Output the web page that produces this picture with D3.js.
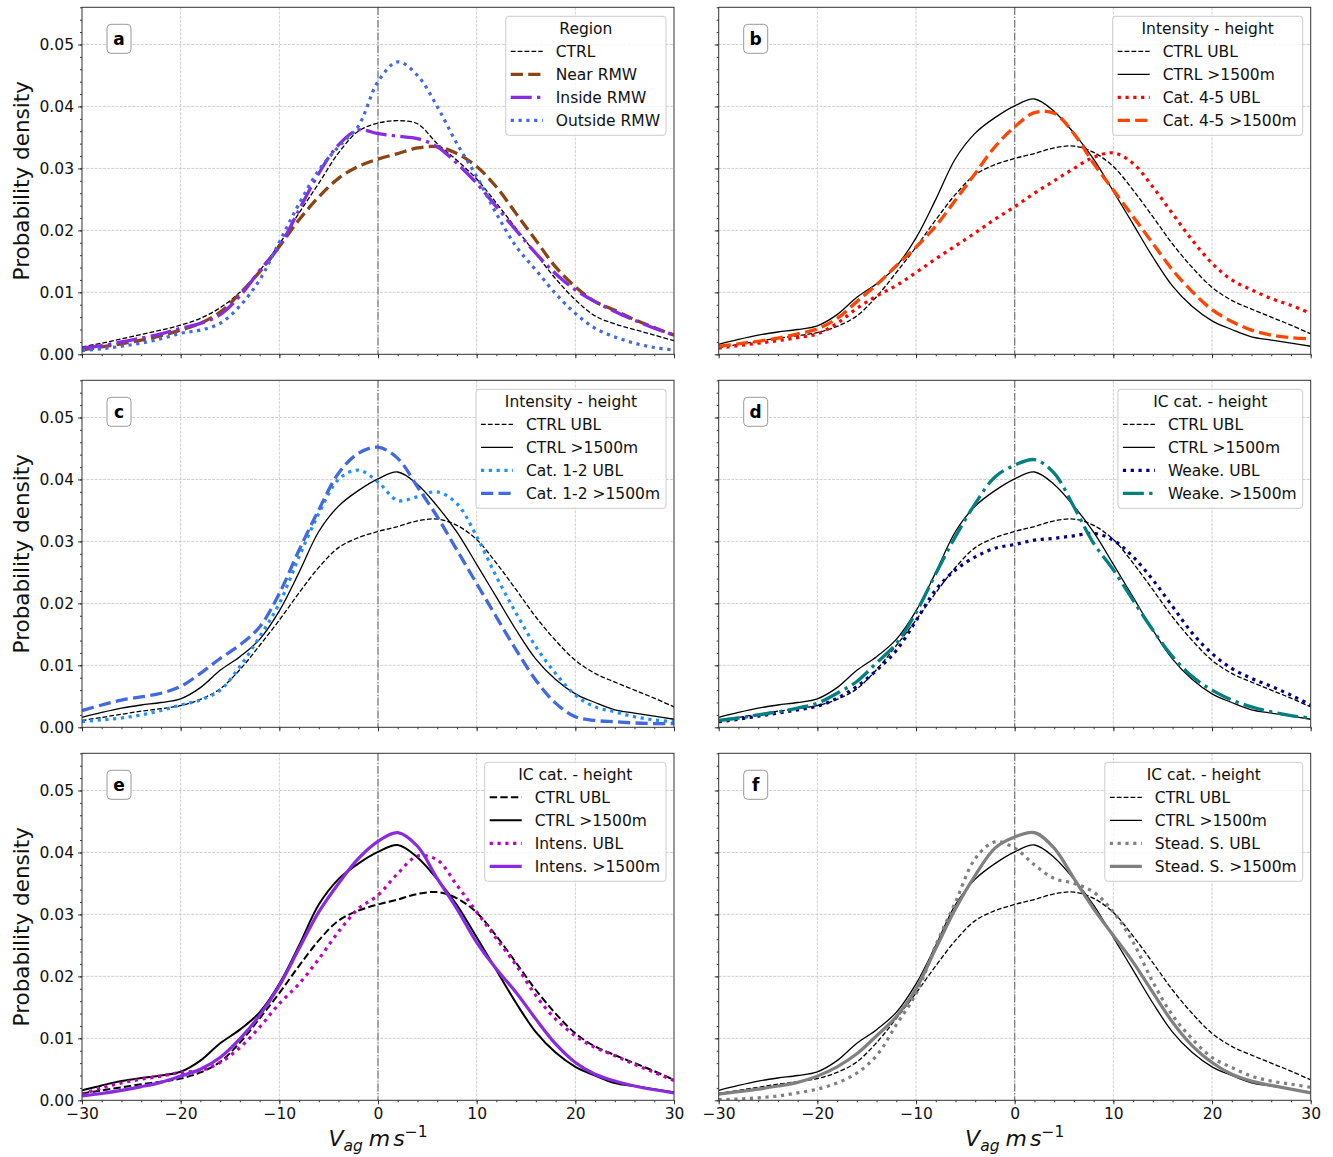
<!DOCTYPE html>
<html>
<head>
<meta charset="utf-8">
<script src="https://cdn.jsdelivr.net/npm/d3@7"></script>
<style>
  body { margin: 0; background: #fff; }
  text { font-family: "DejaVu Sans", sans-serif; }
</style>
</head>
<body>
<svg id="chart" width="1333" height="1157"></svg>
<script>
// Ageostrophic wind speed grid (m s^-1), one value every 2 m s^-1
const vGrid = d3.range(-30, 31, 2);

// Panel a: region
const ctrlRegion = [0.0012,0.0018,0.0025,0.0032,0.0039,0.0047,0.0058,0.0075,0.0100,0.0135,0.0178,0.0228,0.0276,0.0325,0.0360,0.0373,0.0377,0.0372,0.0340,0.0313,0.0283,0.0244,0.0203,0.0162,0.0122,0.0088,0.0062,0.0049,0.0040,0.0031,0.0022];
const nearRMW    = [0.0007,0.0012,0.0017,0.0023,0.0030,0.0039,0.0050,0.0068,0.0098,0.0133,0.0174,0.0217,0.0254,0.0284,0.0303,0.0315,0.0324,0.0333,0.0335,0.0324,0.0303,0.0270,0.0227,0.0184,0.0141,0.0109,0.0085,0.0071,0.0056,0.0043,0.0031];
const insideRMW  = [0.0010,0.0014,0.0020,0.0026,0.0033,0.0042,0.0050,0.0064,0.0094,0.0135,0.0174,0.0233,0.0292,0.0338,0.0362,0.0356,0.0352,0.0348,0.0335,0.0308,0.0276,0.0238,0.0200,0.0163,0.0130,0.0104,0.0085,0.0069,0.0055,0.0042,0.0031];
const outsideRMW = [0.0006,0.0009,0.0013,0.0018,0.0025,0.0034,0.0039,0.0050,0.0078,0.0120,0.0181,0.0243,0.0297,0.0335,0.0368,0.0440,0.0472,0.0450,0.0400,0.0340,0.0287,0.0227,0.0174,0.0136,0.0098,0.0066,0.0042,0.0028,0.0018,0.0011,0.0007];

// Control runs, shared by panels b-f
const ctrlUBL    = [0.0011,0.0016,0.0021,0.0026,0.0030,0.0035,0.0045,0.0062,0.0093,0.0132,0.0173,0.0217,0.0258,0.0290,0.0306,0.0316,0.0324,0.0333,0.0336,0.0326,0.0303,0.0265,0.0222,0.0178,0.0140,0.0108,0.0087,0.0073,0.0060,0.0047,0.0033];
const ctrlHigh   = [0.0016,0.0024,0.0031,0.0036,0.0040,0.0046,0.0064,0.0092,0.0114,0.0142,0.0188,0.0250,0.0316,0.0357,0.0382,0.0401,0.0412,0.0392,0.0357,0.0315,0.0263,0.0210,0.0157,0.0110,0.0077,0.0054,0.0040,0.0028,0.0023,0.0018,0.0013];

// Panel b: Cat. 4-5
const cat45UBL   = [0.0010,0.0014,0.0018,0.0022,0.0027,0.0033,0.0050,0.0074,0.0094,0.0111,0.0132,0.0154,0.0175,0.0196,0.0218,0.0238,0.0260,0.0280,0.0300,0.0318,0.0325,0.0308,0.0270,0.0227,0.0184,0.0147,0.0120,0.0104,0.0090,0.0079,0.0066];
const cat45High  = [0.0013,0.0017,0.0021,0.0026,0.0033,0.0041,0.0058,0.0085,0.0112,0.0143,0.0173,0.0207,0.0249,0.0292,0.0335,0.0367,0.0390,0.0389,0.0356,0.0308,0.0265,0.0222,0.0179,0.0136,0.0101,0.0072,0.0053,0.0039,0.0031,0.0027,0.0025];

// Panel c: Cat. 1-2
const cat12UBL   = [0.0009,0.0012,0.0015,0.0020,0.0027,0.0036,0.0044,0.0060,0.0098,0.0146,0.0200,0.0275,0.0345,0.0400,0.0415,0.0396,0.0366,0.0372,0.0380,0.0361,0.0308,0.0243,0.0184,0.0130,0.0087,0.0052,0.0033,0.0025,0.0017,0.0012,0.0009];
const cat12High  = [0.0027,0.0036,0.0044,0.0049,0.0055,0.0066,0.0087,0.0111,0.0133,0.0162,0.0216,0.0286,0.0351,0.0410,0.0442,0.0452,0.0434,0.0388,0.0340,0.0286,0.0232,0.0178,0.0125,0.0076,0.0039,0.0017,0.0011,0.0009,0.0007,0.0006,0.0006];

// Panel d: weakening
const weakUBL    = [0.0009,0.0013,0.0018,0.0023,0.0028,0.0034,0.0047,0.0066,0.0092,0.0124,0.0172,0.0222,0.0254,0.0275,0.0289,0.0295,0.0302,0.0305,0.0309,0.0313,0.0302,0.0275,0.0238,0.0195,0.0152,0.0119,0.0095,0.0079,0.0066,0.0052,0.0036];
const weakHigh   = [0.0011,0.0015,0.0020,0.0025,0.0031,0.0039,0.0055,0.0074,0.0104,0.0135,0.0185,0.0248,0.0308,0.0361,0.0404,0.0423,0.0432,0.0410,0.0356,0.0297,0.0254,0.0205,0.0157,0.0114,0.0082,0.0060,0.0044,0.0033,0.0025,0.0019,0.0015];

// Panel e: intensification
const intensUBL  = [0.0010,0.0020,0.0028,0.0034,0.0039,0.0045,0.0048,0.0061,0.0085,0.0118,0.0156,0.0188,0.0228,0.0272,0.0309,0.0331,0.0366,0.0394,0.0388,0.0347,0.0304,0.0261,0.0218,0.0169,0.0131,0.0104,0.0085,0.0072,0.0058,0.0045,0.0032];
const intensHigh = [0.0007,0.0011,0.0016,0.0022,0.0029,0.0039,0.0050,0.0069,0.0099,0.0137,0.0185,0.0245,0.0304,0.0350,0.0390,0.0418,0.0432,0.0410,0.0358,0.0309,0.0255,0.0212,0.0174,0.0131,0.0091,0.0061,0.0042,0.0031,0.0023,0.0017,0.0012];

// Panel f: steady state
const steadyUBL  = [0.0001,0.0002,0.0004,0.0007,0.0012,0.0018,0.0028,0.0044,0.0072,0.0122,0.0172,0.0250,0.0320,0.0390,0.0417,0.0407,0.0380,0.0358,0.0350,0.0336,0.0304,0.0255,0.0191,0.0137,0.0099,0.0069,0.0053,0.0039,0.0031,0.0026,0.0021];
const steadyHigh = [0.0010,0.0014,0.0018,0.0023,0.0029,0.0039,0.0054,0.0075,0.0104,0.0135,0.0180,0.0245,0.0309,0.0363,0.0407,0.0425,0.0432,0.0407,0.0358,0.0309,0.0266,0.0223,0.0174,0.0126,0.0088,0.0061,0.0042,0.0031,0.0024,0.0018,0.0012];

// Axes ticks and labels
const xMajor = [-30, -20, -10, 0, 10, 20, 30];
const xTickLabels = ["\u221230", "\u221220", "\u221210", "0", "10", "20", "30"];
const yMajor = [0, 0.01, 0.02, 0.03, 0.04, 0.05];
const yTickLabels = ["0.00", "0.01", "0.02", "0.03", "0.04", "0.05"];
const xDomain = [-30, 30];
const yDomain = [0, 0.056];

// Line styles (width, dash pattern, colour)
const styles = {
  ctrlDash:    { w: 1.3, dash: "4.8,2.1", color: "#000" },
  ctrlSolid:   { w: 1.3, dash: null,      color: "#000" },
  ctrlDashMed: { w: 2.0, dash: "7.4,3.2", color: "#000" },
  ctrlSolidMed:{ w: 2.0, dash: null,      color: "#000" },
  brownDash:   { w: 3.3, dash: "12.2,5.3", color: "#8B4513" },
  violetDashDot:{ w: 3.3, dash: "21,5.3,3.3,5.3", color: "#8A2BE2" },
  blueDot:     { w: 3.2, dash: "3.2,4.6", color: "#4169E1" },
  redDot:      { w: 3.2, dash: "3.2,4.6", color: "#FF0000" },
  orangeDash:  { w: 3.3, dash: "12.2,5.3", color: "#FF4500" },
  skyDot:      { w: 3.2, dash: "3.2,4.6", color: "#1E90FF" },
  royalDash:   { w: 3.3, dash: "12.2,5.3", color: "#4169E1" },
  navyDot:     { w: 3.2, dash: "3.2,4.6", color: "#00008B" },
  tealDashDot: { w: 3.3, dash: "21,5.3,3.3,5.3", color: "#008080" },
  magentaDot:  { w: 3.2, dash: "3.2,4.6", color: "#BF00BF" },
  violetSolid: { w: 3.2, dash: null,      color: "#8A2BE2" },
  grayDot:     { w: 3.2, dash: "3.2,4.6", color: "#808080" },
  graySolid:   { w: 3.2, dash: null,      color: "#808080" }
};

const panels = [
  { letter: "a", title: "Region", series: [
    ["CTRL", ctrlRegion, "ctrlDash"],
    ["Near RMW", nearRMW, "brownDash"],
    ["Inside RMW", insideRMW, "violetDashDot"],
    ["Outside RMW", outsideRMW, "blueDot"]] },
  { letter: "b", title: "Intensity - height", series: [
    ["CTRL UBL", ctrlUBL, "ctrlDash"],
    ["CTRL >1500m", ctrlHigh, "ctrlSolid"],
    ["Cat. 4-5 UBL", cat45UBL, "redDot"],
    ["Cat. 4-5 >1500m", cat45High, "orangeDash"]] },
  { letter: "c", title: "Intensity - height", series: [
    ["CTRL UBL", ctrlUBL, "ctrlDash"],
    ["CTRL >1500m", ctrlHigh, "ctrlSolid"],
    ["Cat. 1-2 UBL", cat12UBL, "skyDot"],
    ["Cat. 1-2 >1500m", cat12High, "royalDash"]] },
  { letter: "d", title: "IC cat. - height", series: [
    ["CTRL UBL", ctrlUBL, "ctrlDash"],
    ["CTRL >1500m", ctrlHigh, "ctrlSolid"],
    ["Weake. UBL", weakUBL, "navyDot"],
    ["Weake. >1500m", weakHigh, "tealDashDot"]] },
  { letter: "e", title: "IC cat. - height", series: [
    ["CTRL UBL", ctrlUBL, "ctrlDashMed"],
    ["CTRL >1500m", ctrlHigh, "ctrlSolidMed"],
    ["Intens. UBL", intensUBL, "magentaDot"],
    ["Intens. >1500m", intensHigh, "violetSolid"]] },
  { letter: "f", title: "IC cat. - height", series: [
    ["CTRL UBL", ctrlUBL, "ctrlDash"],
    ["CTRL >1500m", ctrlHigh, "ctrlSolid"],
    ["Stead. S. UBL", steadyUBL, "grayDot"],
    ["Stead. S. >1500m", steadyHigh, "graySolid"]] }
];

const svg = d3.select("#chart");
const colX = [[82, 674], [718.7, 1310.7]];
const rowTop0 = 7.3, rowStep = 373, plotH = 347;
const fontTick = 15.5;

function applyStyle(sel, st) {
  sel.attr("fill", "none")
     .attr("stroke", st.color)
     .attr("stroke-width", st.w)
     .attr("stroke-linejoin", "round")
     .attr("stroke-linecap", "butt");
  if (st.dash) sel.attr("stroke-dasharray", st.dash);
  return sel;
}

panels.forEach((p, i) => {
  const col = i % 2, row = Math.floor(i / 2);
  const [x0, x1] = colX[col];
  const y0 = rowTop0 + row * rowStep, y1 = y0 + plotH;
  const x = d3.scaleLinear().domain(xDomain).range([x0, x1]);
  const y = d3.scaleLinear().domain(yDomain).range([y1, y0]);
  const g = svg.append("g");

  const clipId = "clip-" + p.letter;
  svg.append("clipPath").attr("id", clipId)
    .append("rect").attr("x", x0).attr("y", y0).attr("width", x1 - x0).attr("height", y1 - y0);

  // grid
  const grid = g.append("g").attr("stroke", "#b0b0b0").attr("stroke-width", 0.8)
    .attr("stroke-dasharray", "2.9,1.3").attr("opacity", 0.75);
  xMajor.slice(1, -1).forEach(v => grid.append("line")
    .attr("x1", x(v)).attr("x2", x(v)).attr("y1", y0).attr("y2", y1));
  yMajor.slice(1).forEach(v => grid.append("line")
    .attr("x1", x0).attr("x2", x1).attr("y1", y(v)).attr("y2", y(v)));

  // zero reference line
  g.append("line").attr("x1", x(0)).attr("x2", x(0)).attr("y1", y0).attr("y2", y1)
    .attr("stroke", "#777").attr("stroke-width", 1.2).attr("stroke-dasharray", "7.7,1.9,1.2,1.9");

  // density curves
  const line = d3.line().x((d, k) => x(vGrid[k])).y(d => y(d)).curve(d3.curveCatmullRom.alpha(0.5));
  const curves = g.append("g").attr("clip-path", `url(#${clipId})`);
  p.series.forEach(s => {
    applyStyle(curves.append("path").datum(s[1]).attr("d", line), styles[s[2]]);
  });

  // axes: major and minor ticks
  const showX = row === 2, showY = col === 0;
  g.append("g").attr("transform", `translate(0,${y1})`)
    .call(d3.axisBottom(x).tickValues(xMajor).tickSize(4).tickPadding(4)
      .tickFormat((d, k) => showX ? xTickLabels[k] : ""));
  g.append("g").attr("transform", `translate(0,${y1})`)
    .call(d3.axisBottom(x).tickValues(d3.range(-30, 31, 2)).tickSize(2).tickFormat(""));
  g.append("g").attr("transform", `translate(${x0},0)`)
    .call(d3.axisLeft(y).tickValues(yMajor).tickSize(4).tickPadding(4)
      .tickFormat((d, k) => showY ? yTickLabels[k] : ""));
  g.append("g").attr("transform", `translate(${x0},0)`)
    .call(d3.axisLeft(y).tickValues(d3.range(0, 0.0561, 0.002)).tickSize(2).tickFormat(""));
  g.selectAll(".domain").remove();
  g.selectAll(".tick line").attr("stroke", "#222").attr("stroke-width", 0.9);
  g.selectAll(".tick text").attr("font-size", fontTick).attr("fill", "#111")
    .attr("font-family", "DejaVu Sans, sans-serif");

  // frame
  g.append("rect").attr("x", x0).attr("y", y0).attr("width", x1 - x0).attr("height", y1 - y0)
    .attr("fill", "none").attr("stroke", "#333").attr("stroke-width", 1);

  // panel letter
  g.append("rect").attr("x", x0 + 25).attr("y", y0 + 17).attr("width", 24).attr("height", 29)
    .attr("rx", 4).attr("fill", "#fff").attr("stroke", "#999").attr("stroke-width", 1);
  g.append("text").attr("x", x0 + 37).attr("y", y0 + 31.5).attr("dy", "0.35em")
    .attr("text-anchor", "middle").attr("font-weight", "bold").attr("font-size", 17)
    .text(p.letter);

  // legend
  const lg = g.append("g");
  const box = lg.append("rect");
  const labels = p.series.map(s => lg.append("text")
    .attr("font-size", fontTick).attr("fill", "#111").attr("dy", "0.35em").text(s[0]));
  const title = lg.append("text").attr("font-size", fontTick).attr("fill", "#111")
    .attr("dy", "0.35em").attr("text-anchor", "middle").text(p.title);
  const maxW = d3.max(labels, t => t.node().getComputedTextLength());
  const boxW = 5 + 32 + 13 + maxW + 6;
  const bx1 = x1 - 8, bx0 = bx1 - boxW, by0 = y0 + 9;
  box.attr("x", bx0).attr("y", by0).attr("width", boxW).attr("height", 119).attr("rx", 3)
    .attr("fill", "#fff").attr("fill-opacity", 0.8).attr("stroke", "#ccc").attr("stroke-width", 1);
  title.attr("x", (bx0 + bx1) / 2).attr("y", by0 + 12);
  p.series.forEach((s, k) => {
    const yy = by0 + 35 + 23 * k;
    applyStyle(lg.append("line").attr("x1", bx0 + 5).attr("x2", bx0 + 37)
      .attr("y1", yy).attr("y2", yy), styles[s[2]]);
    labels[k].attr("x", bx0 + 50).attr("y", yy);
  });

  // axis titles
  if (showY) {
    svg.append("text").attr("transform", `translate(29,${(y0 + y1) / 2}) rotate(-90)`)
      .attr("text-anchor", "middle").attr("font-size", 21.5).attr("fill", "#111")
      .text("Probability density");
  }
  if (showX) {
    const t = svg.append("text").attr("x", (x0 + x1) / 2).attr("y", 1146)
      .attr("text-anchor", "middle").attr("font-size", 22).attr("fill", "#111");
    t.append("tspan").attr("font-style", "italic").text("V");
    t.append("tspan").attr("font-style", "italic").attr("font-size", 15.5).attr("dy", 5).text("ag");
    t.append("tspan").attr("font-style", "italic").attr("dy", -5).attr("dx", 6).text("m");
    t.append("tspan").attr("font-style", "italic").attr("dx", 3).text("s");
    t.append("tspan").attr("font-size", 15.5).attr("dy", -9).text("\u22121");
  }
});
</script>
</body>
</html>
